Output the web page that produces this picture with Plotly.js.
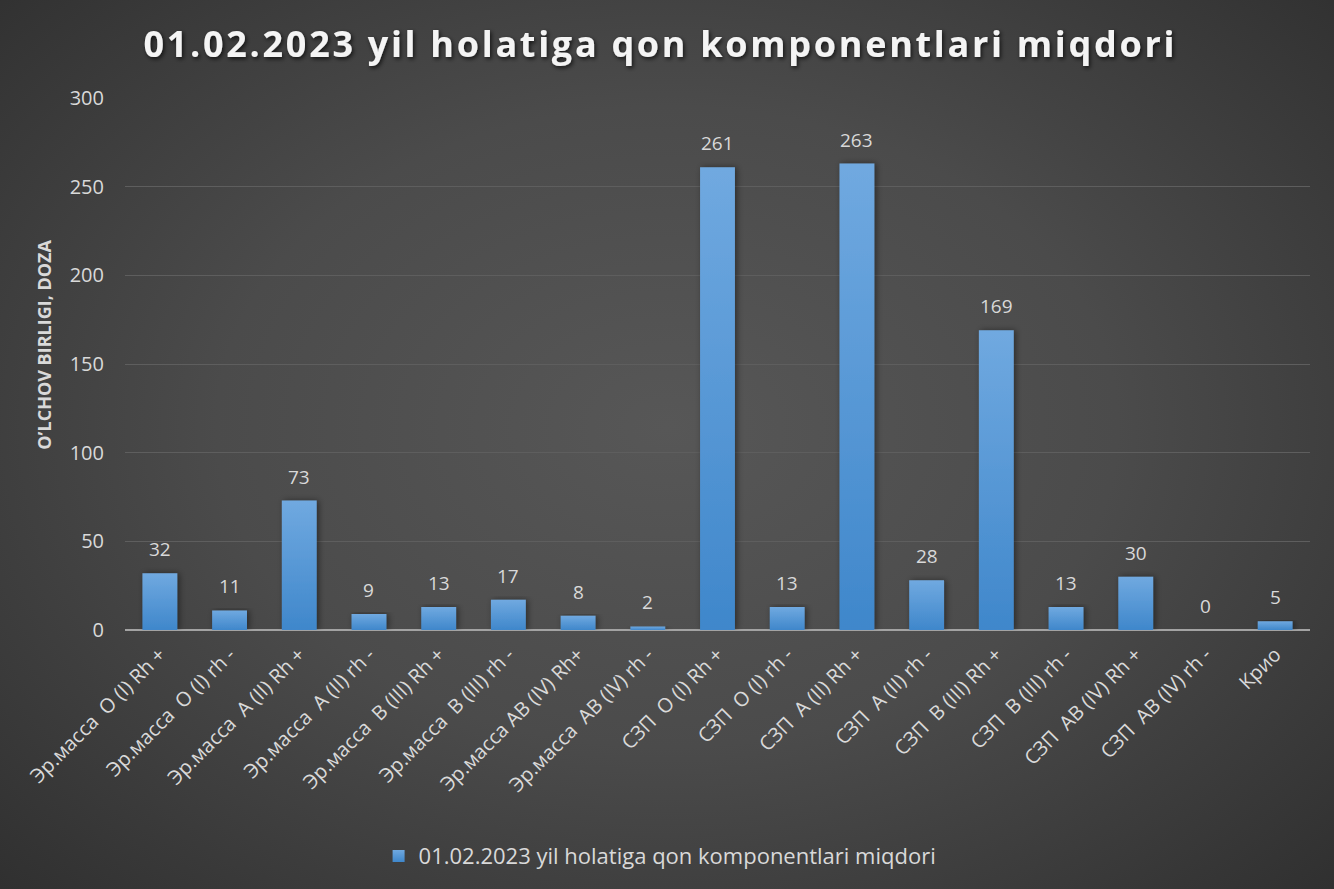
<!DOCTYPE html>
<html>
<head>
<meta charset="utf-8">
<script src="https://cdn.plot.ly/plotly-3.0.1.min.js"></script>
<style>
html,body{margin:0;padding:0;width:1334px;height:889px;overflow:hidden;}
body{background: radial-gradient(ellipse 75% 80% at 50% 48%, #575757 0%, #4b4b4b 45%, #2c2c2c 100%);}
#chart{width:1334px;height:889px;}
.gtitle{letter-spacing:2.7px;}
</style>
</head>
<body>
<div id="chart"></div>
<script>
const categories = [
  "Эр.масса\u00a0 O (I) Rh +",
  "Эр.масса\u00a0 O (I) rh -",
  "Эр.масса\u00a0 A (II) Rh +",
  "Эр.масса\u00a0 A (II) rh -",
  "Эр.масса\u00a0 B (III) Rh +",
  "Эр.масса\u00a0 B (III) rh -",
  "Эр.масса AB (IV) Rh+",
  "Эр.масса\u00a0 AB (IV) rh -",
  "СЗП\u00a0 O (I) Rh +",
  "СЗП\u00a0 O (I) rh -",
  "СЗП\u00a0 A (II) Rh +",
  "СЗП\u00a0 A (II) rh -",
  "СЗП\u00a0 B (III) Rh +",
  "СЗП\u00a0 B (III) rh -",
  "СЗП\u00a0 AB (IV) Rh +",
  "СЗП\u00a0 AB (IV) rh -",
  "Крио"
];
const values = [32, 11, 73, 9, 13, 17, 8, 2, 261, 13, 263, 28, 169, 13, 30, 0, 5];
const seriesName = "01.02.2023 yil holatiga qon komponentlari miqdori";
const chartTitle = "01.02.2023 yil holatiga qon komponentlari miqdori";
const yTitle = "O’LCHOV BIRLIGI, DOZA";
const yTicks = [0, 50, 100, 150, 200, 250, 300];

const font = "Open Sans, Noto Sans, sans-serif";

const labelAnnotations = categories.map((c, i) => ({
  x: c, y: values[i], xref: "x", yref: "y",
  text: String(values[i]),
  showarrow: false,
  yanchor: "bottom",
  yshift: 9,
  font: {family: font, size: 19, color: "#d9d9d9"}
}));

labelAnnotations.push({
  xref: "paper", yref: "paper", x: -0.068, y: 0.537,
  xanchor: "center", yanchor: "middle",
  textangle: -90, showarrow: false,
  text: "<b>" + yTitle + "</b>",
  font: {family: font, size: 18, color: "#d9d9d9"}
});

Plotly.newPlot("chart", [{
  type: "bar",
  x: categories,
  y: values,
  name: seriesName,
  marker: {color: "#5b9bd5", line: {width: 0}},
  showlegend: true
}], {
  width: 1334, height: 889,
  paper_bgcolor: "rgba(0,0,0,0)",
  plot_bgcolor: "rgba(0,0,0,0)",
  margin: {l: 125, r: 24, t: 98, b: 259, autoexpand: false},
  bargap: 0.5,
  title: {
    text: "<b>" + chartTitle + "</b>",
    font: {family: font, size: 36, color: "#f4f4f4"},
    x: 0.495, xanchor: "center", y: 0.95, yanchor: "middle"
  },
  annotations: labelAnnotations,
  xaxis: {
    type: "category",
    tickangle: -45,
    tickfont: {family: font, size: 20, color: "#d9d9d9"},
    showgrid: false,
    showline: false,
    zeroline: false,
    ticks: "",
    ticklabelstandoff: 8,
    automargin: false
  },
  yaxis: {
    range: [0, 300],
    tickvals: yTicks,
    tickfont: {family: font, size: 20, color: "#d9d9d9"},
    gridcolor: "#5e5e5e",
    gridwidth: 1,
    zeroline: true,
    zerolinecolor: "#a3a3a3",
    zerolinewidth: 2,
    showline: false,
    ticks: "",
    ticklabelstandoff: 20,
    automargin: false
  },
  legend: {
    orientation: "h",
    x: 0.214, xanchor: "left",
    y: -0.425, yanchor: "middle",
    font: {family: font, size: 22, color: "#d9d9d9"},
    bgcolor: "rgba(0,0,0,0)",
    itemwidth: 30
  },
  showlegend: true
}, {displayModeBar: false, staticPlot: true}).then(gd => {
  const svg = gd.querySelector("svg.main-svg");
  const ns = "http://www.w3.org/2000/svg";
  let defs = svg.querySelector("defs");
  if (!defs) { defs = document.createElementNS(ns, "defs"); svg.insertBefore(defs, svg.firstChild); }
  defs.insertAdjacentHTML("beforeend",
    '<linearGradient id="barGrad" x1="0" y1="0" x2="0" y2="1">' +
    '<stop offset="0" stop-color="#70a9e0"/><stop offset="1" stop-color="#3f87cb"/></linearGradient>' +
    '<filter id="barShadow" x="-30%" y="-10%" width="160%" height="120%"><feDropShadow dx="2" dy="0" stdDeviation="3" flood-color="#000" flood-opacity="0.45"/></filter>' +
    '<filter id="titleShadow" x="-5%" y="-30%" width="110%" height="160%"><feDropShadow dx="1.5" dy="2" stdDeviation="2" flood-color="#000" flood-opacity="0.7"/></filter>');
  gd.querySelectorAll(".barlayer .point path").forEach(p => {
    p.style.fill = "url(#barGrad)";
    p.setAttribute("filter", "url(#barShadow)");
  });
  gd.querySelectorAll(".legend .legendpoints path").forEach(p => { p.style.fill = "url(#barGrad)"; });
  const t = gd.querySelector(".gtitle");
  if (t) t.setAttribute("filter", "url(#titleShadow)");
});
</script>
</body>
</html>
